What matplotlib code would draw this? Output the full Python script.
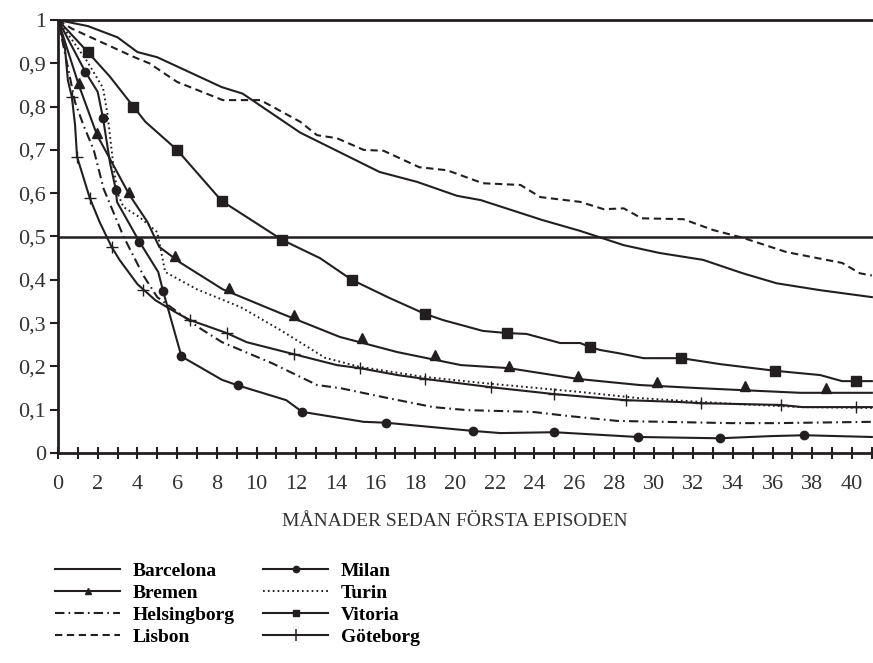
import matplotlib
matplotlib.use('Agg')
from matplotlib import pyplot as plt
from matplotlib.lines import Line2D
from matplotlib.ticker import MultipleLocator, FuncFormatter

# months since first episode / share without new episode
barcelona_m = [0, 1.5, 3, 4, 5, 8.25, 9.3, 12.2, 16.2, 18.1, 20.1, 21.3, 24.4, 26.3,
               28.5, 30.3, 32.5, 34.5, 36.2, 38.4, 41]
barcelona_v = [1, 0.986, 0.96, 0.926, 0.914, 0.845, 0.83, 0.74, 0.649, 0.626, 0.594,
               0.584, 0.538, 0.513, 0.48, 0.462, 0.446, 0.415, 0.392, 0.376, 0.36]

lisbon_m = [0, 0.7, 3.8, 4.6, 6.0, 8.3, 10.2, 12.2, 13.05, 14.05, 15.4, 16.4, 18.2, 19.6,
            21.4, 23.3, 24.3, 26.3, 27.5, 28.5, 29.4, 31.5, 33, 34.5, 36.7, 39.5, 40.4, 41]
lisbon_v = [1, 0.98, 0.915, 0.9, 0.857, 0.815, 0.815, 0.765, 0.734, 0.727, 0.70, 0.698,
            0.66, 0.653, 0.623, 0.619, 0.591, 0.58, 0.563, 0.565, 0.542, 0.54, 0.515,
            0.497, 0.464, 0.439, 0.415, 0.41]

vitoria_m = [0, 1.5, 2.6, 3.8, 4.4, 6.0, 8.25, 11.3, 13.2, 14.8, 16.7, 18.5, 19.4, 21.4,
             22.6, 23.6, 25.3, 26.3, 26.8, 27.3, 28.3, 29.5, 31.4, 33.4, 36.1, 38.4, 39.5, 41]
vitoria_v = [1, 0.926, 0.87, 0.80, 0.765, 0.70, 0.582, 0.492, 0.45, 0.40, 0.358, 0.321,
             0.307, 0.282, 0.277, 0.275, 0.254, 0.254, 0.245, 0.238, 0.23, 0.219, 0.219,
             0.205, 0.19, 0.18, 0.166, 0.166]
vitoria_mark_m = [1.5, 3.8, 6.0, 8.25, 11.3, 14.8, 18.5, 22.6, 26.8, 31.4, 36.1, 40.2]
vitoria_mark_v = [0.926, 0.80, 0.70, 0.582, 0.492, 0.40, 0.321, 0.277, 0.245, 0.219, 0.19, 0.166]

bremen_m = [0, 1.06, 1.97, 3.6, 4.5, 5.1, 6.15, 8.3, 11.2, 14.2, 17.1, 20.3, 22.7, 26.2,
            29.3, 32.2, 35.5, 37.4, 39.2, 41]
bremen_v = [1, 0.848, 0.734, 0.596, 0.534, 0.476, 0.44, 0.378, 0.323, 0.268, 0.233, 0.203,
            0.196, 0.171, 0.157, 0.15, 0.143, 0.139, 0.139, 0.139]
bremen_mark_m = [1.06, 1.97, 3.6, 5.9, 8.6, 11.9, 15.3, 19.0, 22.7, 26.2, 30.2, 34.6, 38.7]
bremen_mark_v = [0.855, 0.74, 0.602, 0.455, 0.382, 0.318, 0.265, 0.226, 0.2, 0.177, 0.164,
                 0.155, 0.15]

milan_m = [0, 1.38, 2.0, 2.27, 2.62, 2.92, 2.97, 4.1, 5.05, 5.3, 6.22, 8.26, 9.07, 11.5,
           12.3, 15.4, 16.5, 20.9, 22.3, 25.0, 29.2, 33.35, 35.9, 37.6, 41]
milan_v = [1, 0.88, 0.834, 0.773, 0.67, 0.607, 0.58, 0.488, 0.418, 0.373, 0.223, 0.169,
           0.156, 0.122, 0.095, 0.072, 0.07, 0.051, 0.046, 0.048, 0.037, 0.034, 0.039,
           0.041, 0.037]
milan_mark_m = [1.38, 2.27, 2.92, 4.1, 5.3, 6.22, 9.07, 12.3, 16.5, 20.9, 25.0, 29.2, 33.35, 37.6]
milan_mark_v = [0.88, 0.773, 0.607, 0.488, 0.373, 0.223, 0.156, 0.095, 0.07, 0.051, 0.048,
                0.037, 0.034, 0.041]

turin_m = [0, 1.46, 2.27, 2.5, 2.8, 3.0, 3.3, 4.1, 5.0, 5.4, 7.0, 9.2, 11.2, 13.45, 15.2,
           18.4, 21.3, 26.3, 29.2, 34.2, 37.5, 41]
turin_v = [1, 0.905, 0.843, 0.78, 0.66, 0.6, 0.568, 0.545, 0.51, 0.418, 0.378, 0.337,
           0.284, 0.22, 0.199, 0.176, 0.162, 0.141, 0.127, 0.113, 0.106, 0.104]

goteborg_m = [0, 0.35, 0.5, 0.7, 0.86, 0.96, 1.6, 2.1, 2.7, 3.1, 4.0, 4.9, 6.0, 6.65,
              8.5, 9.5, 11.9, 14.05, 15.2, 17.1, 18.5, 21.8, 25.0, 28.6, 31.2, 32.4,
              36.4, 37.5, 41]
goteborg_v = [1, 0.935, 0.86, 0.822, 0.757, 0.684, 0.589, 0.533, 0.476, 0.446, 0.39,
              0.353, 0.323, 0.307, 0.277, 0.256, 0.228, 0.203, 0.196, 0.18, 0.171, 0.152,
              0.136, 0.122, 0.118, 0.115, 0.111, 0.106, 0.106]
goteborg_mark_m = [0.7, 0.96, 1.6, 2.7, 4.3, 6.65, 8.5, 11.9, 15.2, 18.5, 21.8, 25.0,
                   28.6, 32.4, 36.4, 40.2]
goteborg_mark_v = [0.822, 0.684, 0.589, 0.476, 0.376, 0.307, 0.277, 0.228, 0.196, 0.171,
                   0.152, 0.136, 0.122, 0.115, 0.111, 0.106]

helsingborg_m = [0, 0.5, 0.86, 1.3, 1.8, 2.3, 2.7, 3.3, 4.3, 5.0, 7.05, 8.26, 10.8, 13.05,
                 14.2, 16.6, 18.9, 20.6, 23.9, 25.8, 28.2, 33.9, 36.2, 41]
helsingborg_v = [1, 0.89, 0.81, 0.755, 0.70, 0.61, 0.566, 0.5, 0.41, 0.36, 0.291, 0.256,
                 0.207, 0.157, 0.15, 0.127, 0.106, 0.099, 0.095, 0.085, 0.074, 0.069,
                 0.069, 0.072]

plt.rcParams['font.family'] = ['Liberation Serif', 'DejaVu Serif']

fig = plt.figure(figsize=(8.73, 6.63), dpi=100)
ax = fig.add_axes([58 / 873, 1 - 453 / 663, 1 - 58 / 873, 433 / 663])

lw = 1.5
k = '#231f20'
ax.plot(barcelona_m, barcelona_v, color=k, lw=lw)
ax.plot(lisbon_m, lisbon_v, color=k, lw=lw, linestyle=(0, (3.5, 2.2)))
ax.plot(helsingborg_m, helsingborg_v, color=k, lw=lw, linestyle=(0, (4.5, 2, 0.8, 2)))
ax.plot(turin_m, turin_v, color=k, lw=1.4, linestyle=(0, (0.9, 1.6)))
ax.plot(vitoria_m, vitoria_v, color=k, lw=lw)
ax.plot(vitoria_mark_m, vitoria_mark_v, 's', color=k, ms=6.5, linestyle='none')
ax.plot(bremen_m, bremen_v, color=k, lw=lw)
ax.plot(bremen_mark_m, bremen_mark_v, '^', color=k, ms=6.5, linestyle='none')
ax.plot(milan_m, milan_v, color=k, lw=lw)
ax.plot(milan_mark_m, milan_mark_v, 'o', color=k, ms=6, linestyle='none')
ax.plot(goteborg_m, goteborg_v, color=k, lw=lw)
ax.plot(goteborg_mark_m, goteborg_mark_v, '+', color=k, ms=9, mew=1.0, linestyle='none')

ax.axhline(0.5, color=k, lw=1.8)

ax.set_xlim(0, (873 - 58) / 19.85)
ax.set_ylim(0, 1)
ax.spines['right'].set_visible(False)
for s in ['left', 'bottom', 'top']:
    ax.spines[s].set_linewidth(2)
    ax.spines[s].set_color(k)

ax.xaxis.set_major_locator(MultipleLocator(2))
ax.xaxis.set_minor_locator(MultipleLocator(1))
ax.yaxis.set_major_locator(MultipleLocator(0.1))
ax.yaxis.set_major_formatter(FuncFormatter(
    lambda v, p: '0' if abs(v) < 1e-9 else ('1' if abs(v - 1) < 1e-9 else ('%.1f' % v).replace('.', ','))))
ax.tick_params(axis='x', which='both', direction='inout', length=9, width=1.5,
               color=k, labelsize=16, pad=11.5, labelcolor='#333333')
ax.tick_params(axis='y', direction='out', length=5.5, width=1.5, color=k,
               labelsize=16, pad=3, labelcolor='#333333')

fig.text(455 / 873, 1 - 521 / 663, 'MÅNADER SEDAN FÖRSTA EPISODEN', ha='center', va='center',
         fontsize=14, color='#333333')

handles = [
    Line2D([], [], color=k, lw=lw),
    Line2D([], [], color=k, lw=lw, marker='^', ms=5),
    Line2D([], [], color=k, lw=lw, linestyle=(0, (4.5, 2, 0.8, 2))),
    Line2D([], [], color=k, lw=lw, linestyle=(0, (3.5, 2.2))),
    Line2D([], [], color=k, lw=lw, marker='o', ms=4.5),
    Line2D([], [], color=k, lw=1.4, linestyle=(0, (0.9, 1.6))),
    Line2D([], [], color=k, lw=lw, marker='s', ms=5),
    Line2D([], [], color=k, lw=lw, marker='+', ms=9, mew=1.1),
]
labels = ['Barcelona', 'Bremen', 'Helsingborg', 'Lisbon', 'Milan', 'Turin', 'Vitoria', 'Göteborg']
fig.legend(handles, labels, ncol=2, loc='upper left', bbox_to_anchor=(55 / 873, 1 - 562 / 663),
           frameon=False, handlelength=3.35, handletextpad=0.65, columnspacing=1.45,
           labelspacing=0.23, borderpad=0, borderaxespad=0, numpoints=1,
           prop={'family': 'Liberation Serif', 'weight': 'bold', 'size': 14})

fig.savefig('out.png', dpi=100)
